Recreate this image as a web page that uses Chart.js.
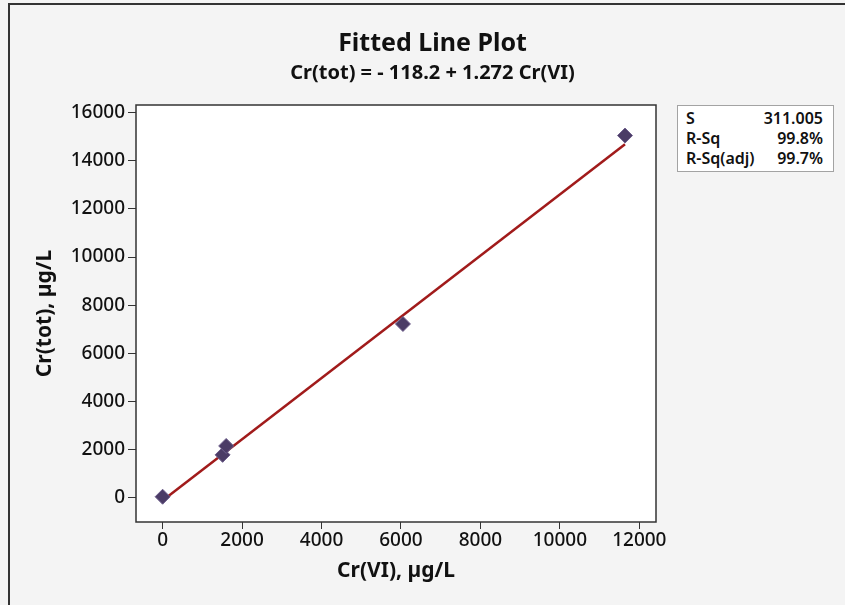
<!DOCTYPE html>
<html>
<head>
<meta charset="utf-8">
<title>Fitted Line Plot</title>
<script src="https://cdn.jsdelivr.net/npm/chart.js@4.4.1/dist/chart.umd.min.js"></script>
<style>
    html, body { margin: 0; background: #f4f4f4; overflow: hidden; }
    #wrap { position: relative; width: 845px; height: 605px; }
    #fitChart { display: block; }
    #statsBox {
        position: absolute; left: 677px; top: 105px; width: 157px; height: 67px;
        box-sizing: border-box; border: 1px solid #a3a3a3; background: #fff;
        padding: 2px 10px 0 8px; font: 600 16px "Noto Sans", sans-serif; color: #111;
    }
    .stat-row { display: flex; justify-content: space-between; line-height: 20px; }
</style>
</head>
<body>
<div id="wrap">
    <canvas id="fitChart" width="845" height="605"></canvas>
    <div id="statsBox"></div>
</div>
<script>
// Data
const crVI = [0, 1510, 1600, 6050, 11640];        // x, µg/L
const crTot = [40, 1780, 2150, 7220, 15050];      // y, µg/L
const fitX = [0, 11640];                           // fitted line ends
const fitY = [-118, 14688];
const xTicks = [0, 2000, 4000, 6000, 8000, 10000, 12000];
const yTicks = [0, 2000, 4000, 6000, 8000, 10000, 12000, 14000, 16000];
const statLabels = ['S', 'R-Sq', 'R-Sq(adj)'];
const statValues = ['311.005', '99.8%', '99.7%'];

class FitChartManager {
    constructor() {
        document.addEventListener("DOMContentLoaded", () => {
            this.fillStats(); // table in the right corner
            this.setupChart(); // the plot itself
        });
    }

    // Stats box S / R-Sq / R-Sq(adj)
    fillStats() {
        const box = document.getElementById('statsBox');
        box.innerHTML = '';
        for (let i = 0; i < statLabels.length; i++) {
            const row = document.createElement('div');
            row.className = 'stat-row';
            row.innerHTML = `<span>${statLabels[i]}</span><span>${statValues[i]}</span>`;
            box.appendChild(row);
        }
    }

    setupChart() {
        const fontFamily = '"Noto Sans", sans-serif';
        const ink = '#111';

        // grey page, white plot area, frames
        const framePlugin = {
            id: 'framePlugin',
            beforeDraw(chart) {
                const { ctx, chartArea: a, width, height } = chart;
                ctx.save();
                ctx.fillStyle = '#f4f4f4';
                ctx.fillRect(0, 0, width, height);
                ctx.fillStyle = '#fff';
                ctx.fillRect(a.left, a.top, a.right - a.left, a.bottom - a.top);
                ctx.fillStyle = '#333';
                ctx.fillRect(8, 3, 2, height - 3); // left edge of the page frame
                ctx.fillRect(8, 3, width - 8, 2);  // top edge
                ctx.restore();
            },
            afterDraw(chart) {
                const { ctx, chartArea: a } = chart;
                ctx.save();
                ctx.strokeStyle = '#333';
                ctx.lineWidth = 1.5;
                ctx.strokeRect(a.left, a.top, a.right - a.left, a.bottom - a.top);
                ctx.restore();
            }
        };

        const plainTick = v => String(v); // no thousands separator

        const ctx = document.getElementById('fitChart').getContext('2d');
        new Chart(ctx, {
            type: 'scatter',
            data: {
                datasets: [{
                    label: 'Data',
                    data: crVI.map((x, i) => ({ x: x, y: crTot[i] })),
                    pointStyle: 'rectRot',
                    pointRadius: 7.5,
                    backgroundColor: '#4b3c66',
                    borderColor: '#6e5f8c',
                    borderWidth: 1
                }, {
                    label: 'Fit',
                    data: fitX.map((x, i) => ({ x: x, y: fitY[i] })),
                    showLine: true,
                    pointRadius: 0,
                    borderColor: '#a11b1b',
                    borderWidth: 2.5
                }]
            },
            options: {
                responsive: false,
                animation: false,
                layout: { padding: { left: 20, right: 0, top: 0, bottom: 0 } },
                plugins: {
                    legend: { display: false },
                    tooltip: { enabled: false },
                    title: {
                        display: true,
                        text: 'Fitted Line Plot',
                        color: ink,
                        font: { family: fontFamily, size: 25, weight: 'bold' },
                        padding: { top: 29, bottom: 0 }
                    },
                    subtitle: {
                        display: true,
                        text: 'Cr(tot) = - 118.2 + 1.272 Cr(VI)',
                        color: ink,
                        font: { family: fontFamily, size: 20, weight: 'bold' },
                        padding: { top: 2, bottom: 20 }
                    }
                },
                scales: {
                    x: {
                        type: 'linear',
                        position: 'bottom',
                        min: -670,
                        max: 12420,
                        afterBuildTicks: s => { s.ticks = xTicks.map(v => ({ value: v })); },
                        afterFit: s => { s.height = 83; },
                        border: { display: false },
                        grid: { drawOnChartArea: false, tickLength: 7, color: '#333' },
                        ticks: { callback: plainTick, color: ink, font: { family: fontFamily, size: 19, weight: 500 }, padding: 0, maxRotation: 0 },
                        title: {
                            display: true,
                            text: 'Cr(VI), µg/L',
                            color: ink,
                            font: { family: fontFamily, size: 21, weight: 'bold' },
                            padding: { top: 0, bottom: 21 }
                        }
                    },
                    y: {
                        type: 'linear',
                        position: 'left',
                        min: -1010,
                        max: 16320,
                        afterBuildTicks: s => { s.ticks = yTicks.map(v => ({ value: v })); },
                        afterFit: s => { s.width = 116; },
                        border: { display: false },
                        grid: { drawOnChartArea: false, tickLength: 8, color: '#333' },
                        ticks: { callback: plainTick, color: ink, font: { family: fontFamily, size: 19, weight: 500 }, padding: 3 },
                        title: {
                            display: true,
                            text: 'Cr(tot), µg/L',
                            color: ink,
                            font: { family: fontFamily, size: 21, weight: 'bold' },
                            padding: { top: 12, bottom: 0 }
                        }
                    },
                    // empty axis on the right only keeps room for the stats box
                    side: {
                        type: 'linear',
                        position: 'right',
                        afterFit: s => { s.width = 189; },
                        border: { display: false },
                        grid: { display: false, drawTicks: false },
                        ticks: { display: false }
                    }
                }
            },
            plugins: [framePlugin]
        });
    }
}

const fitChartManager = new FitChartManager();
</script>
</body>
</html>
